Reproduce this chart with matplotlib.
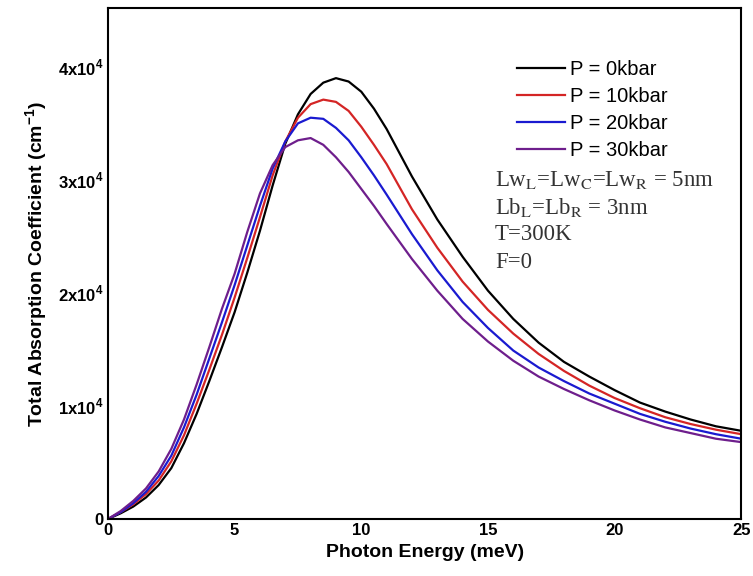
import matplotlib
matplotlib.use("Agg")
import matplotlib.pyplot as plt

plt.rcParams['font.family'] = ['Liberation Sans', 'DejaVu Sans']
plt.rcParams['mathtext.fontset'] = 'custom'
plt.rcParams['mathtext.rm'] = 'Liberation Sans'
plt.rcParams['mathtext.bf'] = 'Liberation Sans:bold'

# photon energy (meV)
energy = [0, 0.5, 1, 1.5, 2, 2.5, 3, 3.5, 4, 4.5, 5, 5.5, 6, 6.5, 7, 7.5, 8, 8.5,
          9, 9.5, 10, 10.5, 11, 12, 13, 14, 15, 16, 17, 18, 19, 20, 21, 22, 23, 24, 25]

# total absorption coefficient, in units of 1e4 cm^-1
p0 = [0, 0.05, 0.11, 0.19, 0.30, 0.45, 0.67, 0.93, 1.22, 1.52, 1.83, 2.18, 2.55, 2.95,
      3.32, 3.58, 3.76, 3.86, 3.90, 3.87, 3.78, 3.63, 3.45, 3.03, 2.65, 2.32, 2.02,
      1.77, 1.56, 1.39, 1.26, 1.14, 1.03, 0.95, 0.88, 0.82, 0.78]
p10 = [0, 0.06, 0.13, 0.22, 0.34, 0.51, 0.74, 1.02, 1.32, 1.63, 1.96, 2.31, 2.67, 3.04,
       3.34, 3.55, 3.67, 3.71, 3.69, 3.61, 3.47, 3.31, 3.14, 2.74, 2.40, 2.10, 1.85,
       1.64, 1.46, 1.31, 1.18, 1.07, 0.98, 0.90, 0.84, 0.79, 0.75]
p20 = [0, 0.06, 0.14, 0.24, 0.38, 0.56, 0.81, 1.10, 1.42, 1.74, 2.07, 2.42, 2.77, 3.10,
       3.34, 3.50, 3.55, 3.54, 3.46, 3.35, 3.20, 3.04, 2.87, 2.52, 2.20, 1.92, 1.69,
       1.49, 1.34, 1.22, 1.11, 1.02, 0.93, 0.86, 0.80, 0.75, 0.71]
p30 = [0, 0.07, 0.16, 0.27, 0.42, 0.62, 0.88, 1.19, 1.52, 1.86, 2.17, 2.54, 2.88, 3.13,
       3.29, 3.35, 3.37, 3.31, 3.20, 3.07, 2.92, 2.77, 2.61, 2.30, 2.02, 1.77, 1.57,
       1.40, 1.26, 1.15, 1.05, 0.96, 0.88, 0.81, 0.76, 0.71, 0.68]

labels = ["P = 0kbar", "P = 10kbar", "P = 20kbar", "P = 30kbar"]
colors = ["#000000", "#d42525", "#1a1ad0", "#6e1e8c"]

fig = plt.figure(figsize=(7.53, 5.76), dpi=100)
ax = fig.add_axes([0.1434, 0.099, 0.841, 0.887])

for vals, lab, col in zip([p0, p10, p20, p30], labels, colors):
    ax.plot(energy, [v * 1e4 for v in vals], color=col, lw=1.6, label=lab)

ax.set_xlim(0, 25)
ax.set_ylim(0, 4.52e4)
ax.set_xticks([0, 5, 10, 15, 20, 25])
ax.set_yticks([0, 1e4, 2e4, 3e4, 4e4])
ax.set_yticklabels(["0"] + [r"%dx10$^\mathbf{4}$" % i for i in range(1, 5)])
ax.tick_params(length=0, labelsize=12, pad=3)
for t in ax.get_xticklabels() + ax.get_yticklabels():
    t.set_fontweight("bold")
for s in ax.spines.values():
    s.set_linewidth(1.5)

ax.set_xlabel("Photon Energy (meV)", fontsize=14, fontweight="bold", labelpad=4)
ax.set_ylabel(r"Total Absorption Coefficient (cm$^{\mathbf{-1}}$)", fontsize=14,
              fontweight="bold", labelpad=6)

ax.legend(loc="upper left", bbox_to_anchor=(0.617, 0.934), frameon=False,
          fontsize=14.5, handlelength=2.4, handletextpad=0.25, labelspacing=0.4)

notes = [r"Lw$_\mathrm{L}$=Lw$_\mathrm{C}$=Lw$_\mathrm{R}$ = 5nm",
         r"Lb$_\mathrm{L}$=Lb$_\mathrm{R}$ = 3nm",
         "T=300K",
         "F=0"]
for i, line in enumerate(notes):
    ax.text(0.611, 0.663 - i * 0.0535, line, transform=ax.transAxes,
            family="Liberation Serif", math_fontfamily="stix", fontsize=16.5,
            color="#333333", va="center")

fig.savefig("out.png", dpi=100)
